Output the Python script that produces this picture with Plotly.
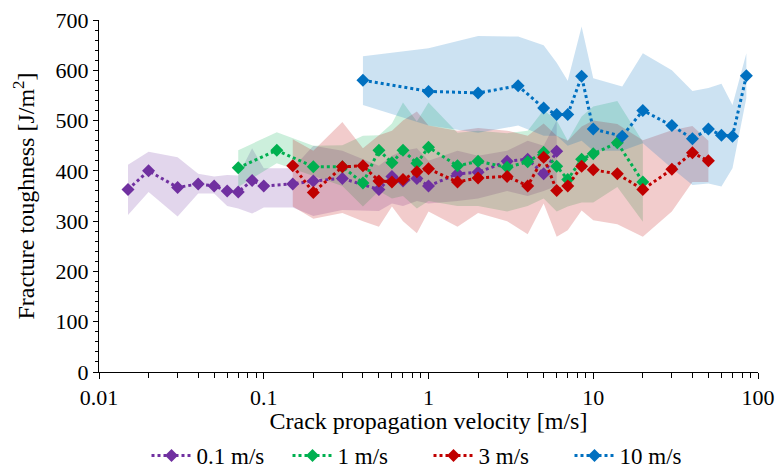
import plotly.graph_objects as go

# Crack propagation velocity [m/s] and fracture toughness [J/m^2] per loading rate
v_01 = [0.015, 0.02, 0.03, 0.04, 0.05, 0.06, 0.07, 0.085, 0.1, 0.15, 0.2, 0.3,
        0.5, 0.6, 0.7, 0.85, 1, 1.5, 2, 3, 4, 5, 6]
g_01 = [363, 400, 367, 374, 370, 360, 358, 381, 370, 374, 380, 385,
        363, 389, 380, 385, 370, 394, 397, 419, 423, 394, 439]
g_01_hi = [412, 438, 427, 394, 389, 392, 391, 445, 405, 405, 450, 440,
           410, 430, 440, 445, 420, 440, 430, 440, 460, 450, 500]
g_01_lo = [312, 358, 309, 355, 355, 330, 325, 315, 327, 327, 310, 322,
           320, 335, 330, 340, 335, 340, 345, 360, 350, 360, 370]

v_1 = [0.07, 0.12, 0.2, 0.3, 0.4, 0.5, 0.6, 0.7, 0.85, 1, 1.5, 2, 3, 4, 5, 6,
       7, 8.5, 10, 14, 20]
g_1 = [406, 441, 408, 408, 376, 441, 416, 441, 415, 447, 410, 419, 407, 418,
       437, 409, 383, 423, 434, 456, 378]
g_1_hi = [441, 477, 450, 451, 470, 471, 494, 536, 498, 536, 476, 480, 475, 480,
          521, 500, 460, 508, 528, 539, 458]
g_1_lo = [368, 415, 390, 370, 329, 360, 345, 350, 325, 340, 330, 330, 319, 330,
          345, 319, 329, 337, 337, 368, 299]

v_3 = [0.15, 0.2, 0.3, 0.4, 0.5, 0.6, 0.7, 0.85, 1, 1.5, 2, 3, 4, 5, 6, 7, 8.5,
       10, 14, 20, 30, 40, 50]
g_3 = [410, 357, 408, 410, 380, 378, 383, 398, 404, 378, 386, 389, 370, 427,
       361, 370, 409, 402, 394, 363, 403, 436, 420]
g_3_hi = [463, 440, 497, 445, 471, 480, 500, 518, 490, 480, 485, 480, 470, 494,
          470, 460, 488, 500, 493, 461, 481, 489, 460]
g_3_lo = [329, 305, 316, 300, 289, 329, 300, 276, 319, 289, 316, 300, 274, 335,
          269, 282, 321, 302, 294, 269, 319, 378, 378]

v_10 = [0.4, 1, 2, 3.5, 5, 6, 7, 8.5, 10, 15, 20, 30, 40, 50, 60, 70, 85]
g_10 = [580, 558, 555, 569, 525, 512, 512, 588, 483, 469, 520, 490, 464, 483,
        471, 469, 589]
g_10_hi = [628, 644, 668, 667, 650, 615, 579, 687, 584, 568, 634, 600, 559, 565,
           573, 531, 634]
g_10_lo = [531, 490, 476, 490, 470, 470, 450, 460, 440, 440, 455, 405, 372, 375,
           369, 405, 545]

series = [
    ("0.1 m/s", v_01, g_01, g_01_hi, g_01_lo, "#7030A0", "rgba(112,48,160,0.2)"),
    ("1 m/s", v_1, g_1, g_1_hi, g_1_lo, "#00B050", "rgba(0,176,80,0.2)"),
    ("3 m/s", v_3, g_3, g_3_hi, g_3_lo, "#C00000", "rgba(192,0,0,0.2)"),
    ("10 m/s", v_10, g_10, g_10_hi, g_10_lo, "#0070C0", "rgba(0,112,192,0.2)"),
]

fig = go.Figure()

# scatter bands first so the lines sit on top
for name, x, y, hi, lo, col, band in series:
    fig.add_trace(go.Scatter(
        x=x + x[::-1], y=hi + lo[::-1], fill="toself", fillcolor=band,
        line=dict(width=0), mode="lines", hoverinfo="skip", showlegend=False))

for name, x, y, hi, lo, col, band in series:
    fig.add_trace(go.Scatter(
        x=x, y=y, name=name, mode="lines+markers",
        line=dict(color=col, width=3, dash="dot"),
        marker=dict(symbol="diamond", size=10, color=col)))

SERIF = "'Times New Roman', 'Liberation Serif', Tinos, 'DejaVu Serif', serif"

fig.update_layout(
    width=780, height=472,
    margin=dict(l=99, r=22, t=20, b=100, autoexpand=False),
    paper_bgcolor="white", plot_bgcolor="white",
    font=dict(family=SERIF, size=22, color="black"),
    showlegend=True,
    legend=dict(orientation="h", x=0.5, xanchor="center",
                yref="container", y=0.035, yanchor="middle",
                font=dict(family=SERIF, size=23, color="black"),
                entrywidth=86, entrywidthmode="pixels",
                itemwidth=40, tracegroupgap=0, bgcolor="rgba(0,0,0,0)"),
)

fig.update_xaxes(
    type="log", range=[-2, 2], automargin=False,
    tickvals=[0.01, 0.1, 1, 10, 100], ticktext=["0.01", "0.1", "1", "10", "100"],
    showgrid=False, zeroline=False,
    showline=True, linecolor="black", linewidth=1,
    ticks="outside", ticklen=6, tickcolor="black",
    minor=dict(ticks="outside", ticklen=5, tickcolor="black", dtick="D1",
               showgrid=False),
    tickfont=dict(family=SERIF, size=22, color="black"),
    title=dict(text="Crack propagation velocity [m/s]",
               font=dict(family=SERIF, size=24, color="black"), standoff=10),
)

fig.update_yaxes(
    range=[0, 700], dtick=100, automargin=False,
    showgrid=False, zeroline=False,
    showline=True, linecolor="black", linewidth=1,
    ticks="outside", ticklen=5, tickcolor="black",
    minor=dict(ticks="outside", ticklen=3, tickcolor="black", dtick=20,
               showgrid=False),
    tickfont=dict(family=SERIF, size=22, color="black"),
    title=dict(text="Fracture toughness [J/m<sup>2</sup>]",
               font=dict(family=SERIF, size=24, color="black"), standoff=14),
)

fig.write_html("out.html")
